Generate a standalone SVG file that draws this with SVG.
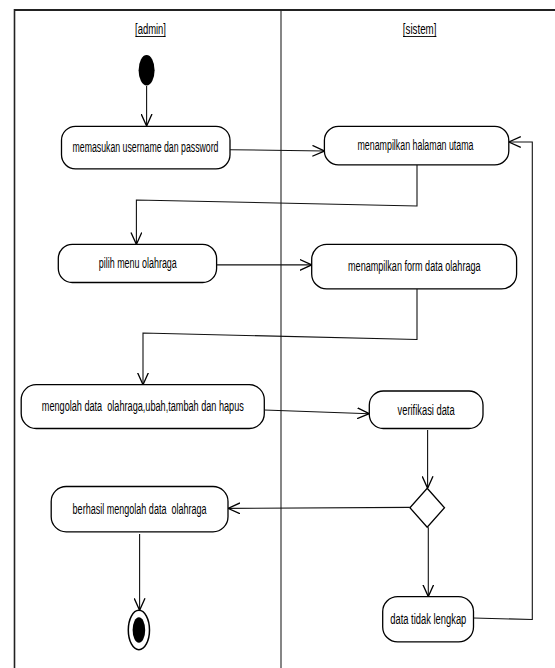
<svg xmlns="http://www.w3.org/2000/svg" width="555" height="668" viewBox="0 0 555 668">
<defs>
<marker id="arr" markerUnits="userSpaceOnUse" markerWidth="12" markerHeight="12" viewBox="0 0 10 10" refX="10" refY="5" orient="auto">
<path d="M0,0.5 L10,5 L0,9.5" fill="none" stroke="#000" stroke-width="1.1"/>
</marker>
</defs>
<style>
.node{fill:#fff;stroke:#000;stroke-width:1.3}
.lbl{font-family:"Liberation Sans Narrow","Liberation Sans",Arial,sans-serif;font-size:14px;fill:#000;text-anchor:middle;white-space:pre}
.lane{font-family:"Liberation Sans Narrow","Liberation Sans",Arial,sans-serif;font-size:14px;fill:#000;text-anchor:middle}
.conn{fill:none;stroke:#111;stroke-width:1.1}
.frame{fill:none;stroke:#222}
</style>
<rect width="555" height="668" fill="#fff"/>
<g id="frame">
<line class="frame" x1="14.5" y1="10" x2="555" y2="10" stroke-width="2"/>
<line class="frame" x1="14.5" y1="9" x2="14.5" y2="668" stroke-width="1.6"/>
<line class="frame" x1="281" y1="10" x2="281" y2="668" stroke-width="1.1"/>
</g>
<g id="lane-admin">
<text class="lane" x="150.5" y="33.5" textLength="31" lengthAdjust="spacingAndGlyphs">[admin]</text>
<line x1="135.5" y1="36.5" x2="165.5" y2="36.5" stroke="#000" stroke-width="0.9"/>
</g>
<g id="lane-sistem">
<text class="lane" x="419.6" y="33.5" textLength="33.6" lengthAdjust="spacingAndGlyphs">[sistem]</text>
<line x1="403" y1="36.5" x2="436.4" y2="36.5" stroke="#000" stroke-width="0.9"/>
</g>
<g id="start">
<ellipse cx="146.6" cy="70.3" rx="8" ry="15.3" fill="#000"/>
</g>
<g id="n1">
<rect class="node" x="61.5" y="126.3" width="168.5" height="42.5" rx="14"/>
<text class="lbl" x="145.5" y="152" textLength="146" lengthAdjust="spacingAndGlyphs">memasukan username dan password</text>
</g>
<g id="n2">
<rect class="node" x="324.4" y="126.4" width="184.4" height="38.5" rx="14"/>
<text class="lbl" x="415.5" y="150" textLength="116" lengthAdjust="spacingAndGlyphs">menampilkan halaman utama</text>
</g>
<g id="n3">
<rect class="node" x="58.3" y="244.4" width="158.3" height="38.1" rx="14"/>
<text class="lbl" x="137.8" y="268" textLength="78" lengthAdjust="spacingAndGlyphs">pilih menu olahraga</text>
</g>
<g id="n4">
<rect class="node" x="311.7" y="244.4" width="204.9" height="44.5" rx="15"/>
<text class="lbl" x="414.3" y="271" textLength="132.5" lengthAdjust="spacingAndGlyphs">menampilkan form data olahraga</text>
</g>
<g id="n5">
<rect class="node" x="21.2" y="384.7" width="243.1" height="43.8" rx="15"/>
<text class="lbl" x="142.8" y="411" textLength="202" lengthAdjust="spacingAndGlyphs">mengolah data  olahraga,ubah,tambah dan hapus</text>
</g>
<g id="n6">
<rect class="node" x="369.3" y="391" width="113.7" height="37.5" rx="14"/>
<text class="lbl" x="426.1" y="414.5" textLength="57" lengthAdjust="spacingAndGlyphs">verifikasi data</text>
</g>
<g id="decision">
<polygon points="427.2,488.3 444.5,507.7 427.2,527.2 409.9,507.7" fill="#fff" stroke="#000" stroke-width="1.3"/>
</g>
<g id="n7">
<rect class="node" x="51.2" y="486.5" width="176.8" height="45.3" rx="15"/>
<text class="lbl" x="139.6" y="513.5" textLength="134" lengthAdjust="spacingAndGlyphs">berhasil mengolah data  olahraga</text>
</g>
<g id="n8">
<rect class="node" x="382.7" y="596.6" width="90.8" height="45.3" rx="15"/>
<text class="lbl" x="428.3" y="623.5" textLength="76" lengthAdjust="spacingAndGlyphs">data tidak lengkap</text>
</g>
<g id="end">
<ellipse cx="138.9" cy="630" rx="10.6" ry="19.7" fill="#fff" stroke="#000" stroke-width="1.5"/>
<ellipse cx="138.9" cy="630" rx="6.3" ry="12.8" fill="#000"/>
</g>
<g id="connectors">
<path class="conn" d="M146.6,86 L146.6,126" marker-end="url(#arr)"/>
<path class="conn" d="M230,149.7 L324.4,151" marker-end="url(#arr)"/>
<path class="conn" d="M417,165 L417,206 L136.4,200 L136.4,244.4" marker-end="url(#arr)"/>
<path class="conn" d="M216.6,264.9 L311.7,264.9" marker-end="url(#arr)"/>
<path class="conn" d="M417,289 L417,339.5 L143,333 L143,384.7" marker-end="url(#arr)"/>
<path class="conn" d="M264.3,410 L369.3,413.7" marker-end="url(#arr)"/>
<path class="conn" d="M427.6,430 L427.6,488.3" marker-end="url(#arr)"/>
<path class="conn" d="M409.9,507.4 L228,508.4" marker-end="url(#arr)"/>
<path class="conn" d="M139.6,534 L139.6,610.3" marker-end="url(#arr)"/>
<path class="conn" d="M428.3,527.2 L428.3,596.6" marker-end="url(#arr)"/>
<path class="conn" d="M473.5,618 L532.3,619.5 L532.3,142 L508.8,142" marker-end="url(#arr)"/>
</g>
</svg>
